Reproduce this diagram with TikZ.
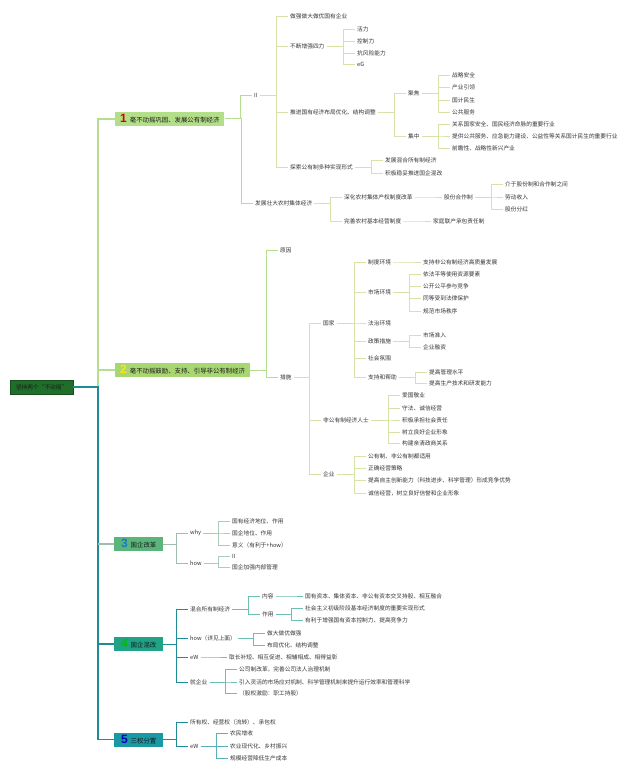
\documentclass[tikz,border=0pt]{standalone}
\usepackage{fontspec}
\setmainfont{Noto Sans CJK SC}
\newfontfamily\numfont{Liberation Sans}

\definecolor{txt}{HTML}{333333}
\definecolor{boxtxt}{HTML}{1A1A1A}
\definecolor{rootfill}{HTML}{1F6F2B}
\definecolor{fillA}{HTML}{B3DF88}
\definecolor{fillB}{HTML}{A8D672}
\definecolor{fillC}{HTML}{5BB57B}
\definecolor{fillD}{HTML}{1FA286}
\definecolor{fillE}{HTML}{1A98A4}
\definecolor{trunkA}{HTML}{B5DF8E}
\definecolor{trunkB}{HTML}{1C8C98}
\definecolor{lineA}{HTML}{D5E2A8}
\definecolor{lineC}{HTML}{A9CDB8}
\definecolor{lineD}{HTML}{6CC0B0}
\definecolor{lineE}{HTML}{5AB0B8}

\newcommand{\secnum}[2]{{\color{#1}\numfont\bfseries\fontsize{12}{12}\selectfont #2}\hspace{3pt}}

\begin{document}
\begin{tikzpicture}[
        x=1pt, y=-1pt,
        every node/.style={anchor=west, inner sep=2pt, text=txt, font=\fontsize{5.7}{6.5}\selectfont},
        secbox/.style={text=boxtxt, inner xsep=5pt, inner ysep=1pt, minimum height=14pt, font=\fontsize{6.4}{7}\selectfont},
        branch/.style={to path={(\tikztostart.east) -| ([xshift=-12pt]\tikztotarget.west) -- (\tikztotarget.west)}},
        subA/.style={branch, draw=lineA, line width=0.6pt},
        subC/.style={branch, draw=lineC, line width=0.6pt},
        subD/.style={branch, draw=lineD, line width=0.6pt},
        subE/.style={branch, draw=lineE, line width=0.6pt}
    ]
    \useasboundingbox (0,0) rectangle (640,774);

    % Root and main topics
    \node[secbox, fill=rootfill, draw=rootfill!70!black, minimum width=63pt, inner xsep=3pt, font=\fontsize{5.7}{6.5}\selectfont] (root) at (10,387) {坚持两个“不动摇”};
    \node[secbox, fill=fillA] (s1) at (115,118.5) {\secnum{red!85!black}{1}毫不动摇巩固、发展公有制经济};
    \node[secbox, fill=fillB] (s2) at (115,370) {\secnum{yellow!90!orange}{2}毫不动摇鼓励、支持、引导非公有制经济};
    \node[secbox, fill=fillC, minimum width=49pt] (s3) at (114,544) {\secnum{cyan!60!blue}{3}国企改革};
    \node[secbox, fill=fillD, minimum width=49pt] (s4) at (114,644) {\secnum{green!75!black}{4}国企混改};
    \node[secbox, fill=fillE, minimum width=49pt] (s5) at (114,739.5) {\secnum{blue!75!black}{5}三权分置};

    \coordinate (tj) at (98,387);
    \draw[trunkA, line width=2pt] (tj) |- (s1.west);
    \draw[trunkA, line width=2pt] (tj) |- (s2.west);
    \draw[trunkB, line width=1.5pt] (root.east) -- (tj) |- (s5.west);
    \draw[lineC!80!gray, line width=1.5pt] (tj |- s3.west) -- (s3.west);
    \draw[trunkB, line width=1.5pt] (tj |- s4.west) -- (s4.west);

    % 1
    \node (ii) at (252,95) {II};
    \node (strong) at (288,16) {做强做大做优国有企业};
    \node (four) at (288,46) {不断增强四力};
    \node (vital) at (355,29) {活力};
    \node (control) at (355,41) {控制力};
    \node (risk) at (355,53) {抗风险能力};
    \node (eg) at (355,64) {eG};
    \node (layout) at (288,112) {推进国有经济布局优化、结构调整};
    \node (focus) at (406,93) {聚焦};
    \node (f1) at (450,75) {战略安全};
    \node (f2) at (450,87) {产业引领};
    \node (f3) at (450,100) {国计民生};
    \node (f4) at (450,112) {公共服务};
    \node (conc) at (406,136) {集中};
    \node (c1) at (450,124) {关系国家安全、国民经济命脉的重要行业};
    \node (c2) at (450,136) {提供公共服务、应急能力建设、公益性等关系国计民生的重要行业};
    \node (c3) at (450,148) {前瞻性、战略性新兴产业};
    \node (forms) at (288,167) {探索公有制多种实现形式};
    \node (mixed) at (383,160) {发展混合所有制经济};
    \node (mixref) at (383,173) {积极稳妥推进国企混改};
    \node (rural) at (253,203) {发展壮大农村集体经济};
    \node (prop) at (342,197) {深化农村集体产权制度改革};
    \node (share) at (442,197) {股份合作制};
    \node (sh1) at (503,184) {介于股份制和合作制之间};
    \node (sh2) at (503,197) {劳动收入};
    \node (sh3) at (503,209) {股份分红};
    \node (basic) at (342,221) {完善农村基本经营制度};
    \node (family) at (431,221) {家庭联产承包责任制};

    % 2
    \node (reason) at (278,250) {原因};
    \node (measure) at (278,377) {措施};
    \node (state) at (321,323) {国家};
    \node (inst) at (366,262) {制度环境};
    \node (instx) at (421,262) {支持非公有制经济高质量发展};
    \node (market) at (366,292) {市场环境};
    \node (m1) at (421,274) {依法平等使用资源要素};
    \node (m2) at (421,286) {公开公平参与竞争};
    \node (m3) at (421,298) {同等受到法律保护};
    \node (m4) at (421,311) {规范市场秩序};
    \node (law) at (366,323) {法治环境};
    \node (policy) at (366,341) {政策措施};
    \node (p1) at (421,335) {市场准入};
    \node (p2) at (421,347) {企业融资};
    \node (social) at (366,358) {社会氛围};
    \node (help) at (366,377) {支持和帮助};
    \node (h1) at (427,372) {提高管理水平};
    \node (h2) at (427,383) {提高生产技术和研发能力};
    \node (people) at (321,420) {非公有制经济人士};
    \node (pp1) at (400,395) {爱国敬业};
    \node (pp2) at (400,408) {守法、诚信经营};
    \node (pp3) at (400,420) {积极承担社会责任};
    \node (pp4) at (400,432) {树立良好企业形象};
    \node (pp5) at (400,443) {构建亲清政商关系};
    \node (firm) at (321,474) {企业};
    \node (fm1) at (366,456) {公有制、非公有制都适用};
    \node (fm2) at (366,468) {正确经营策略};
    \node (fm3) at (366,480) {提高自主创新能力（科技进步、科学管理）形成竞争优势};
    \node (fm4) at (366,493) {诚信经营，树立良好信誉和企业形象};

    % 3
    \node (why) at (188,533) {why};
    \node (w1) at (230,521) {国有经济地位、作用};
    \node (w2) at (230,533) {国企地位、作用};
    \node (w3) at (230,545) {意义（有利于+how）};
    \node (how) at (188,563) {how};
    \node (hw1) at (230,556) {II};
    \node (hw2) at (230,567) {国企加强内部管理};

    % 4
    \node (mix) at (188,609) {混合所有制经济};
    \node (content) at (260,596) {内容};
    \node (cx) at (303,596) {国有资本、集体资本、非公有资本交叉持股、相互融合};
    \node (role) at (260,614) {作用};
    \node (r1) at (303,608) {社会主义初级阶段基本经济制度的重要实现形式};
    \node (r2) at (303,620) {有利于增强国有资本控制力、提高竞争力};
    \node (howb) at (188,638) {how（详见上面）};
    \node (hh1) at (265,633) {做大做优做强};
    \node (hh2) at (265,645) {布局优化、结构调整};
    \node (ewd) at (188,657) {eW};
    \node (ewx) at (227,657) {取长补短、相互促进、相辅相成、相得益彰};
    \node (ent) at (188,682) {就企业};
    \node (e1) at (237,669) {公司制改革，完善公司法人治理机制};
    \node (e2) at (237,682) {引入灵活的市场应对机制、科学管理机制来提升运行效率和管理科学};
    \node (e3) at (237,693) {（股权激励：职工持股）};

    % 5
    \node (own) at (188,722) {所有权、经营权（流转）、承包权};
    \node (ewe) at (188,746) {eW};
    \node (g1) at (228,733) {农民增收};
    \node (g2) at (228,746) {农业现代化、乡村振兴};
    \node (g3) at (228,758) {规模经营降低生产成本};

    % Connectors
    \foreach \a/\b in {s1/ii, s1/rural, s2/reason, s2/measure}
        \draw[branch, draw=trunkA, line width=1pt] (\a) to (\b);
    \foreach \a/\b in {ii/strong, ii/four, ii/layout, ii/forms,
            four/vital, four/control, four/risk, four/eg,
            layout/focus, layout/conc, focus/f1, focus/f2, focus/f3, focus/f4,
            conc/c1, conc/c2, conc/c3, forms/mixed, forms/mixref,
            rural/prop, rural/basic, prop/share, share/sh1, share/sh2, share/sh3, basic/family,
            measure/state, measure/people, measure/firm,
            state/inst, state/market, state/law, state/policy, state/social, state/help,
            inst/instx, market/m1, market/m2, market/m3, market/m4,
            policy/p1, policy/p2, help/h1, help/h2,
            people/pp1, people/pp2, people/pp3, people/pp4, people/pp5,
            firm/fm1, firm/fm2, firm/fm3, firm/fm4}
        \draw[subA] (\a) to (\b);
    \foreach \a/\b in {s3/why, s3/how}
        \draw[branch, draw=lineC!80!gray, line width=1pt] (\a) to (\b);
    \foreach \a/\b in {why/w1, why/w2, why/w3, how/hw1, how/hw2}
        \draw[subC] (\a) to (\b);
    \foreach \a/\b in {s4/mix, s4/howb, s4/ewd, s4/ent}
        \draw[branch, draw=trunkB, line width=1pt] (\a) to (\b);
    \foreach \a/\b in {mix/content, mix/role, content/cx, role/r1, role/r2,
            howb/hh1, howb/hh2, ewd/ewx, ent/e1, ent/e2, ent/e3}
        \draw[subD] (\a) to (\b);
    \foreach \a/\b in {s5/own, s5/ewe}
        \draw[branch, draw=trunkB, line width=1pt] (\a) to (\b);
    \foreach \a/\b in {ewe/g1, ewe/g2, ewe/g3}
        \draw[subE] (\a) to (\b);

\end{tikzpicture}
\end{document}
